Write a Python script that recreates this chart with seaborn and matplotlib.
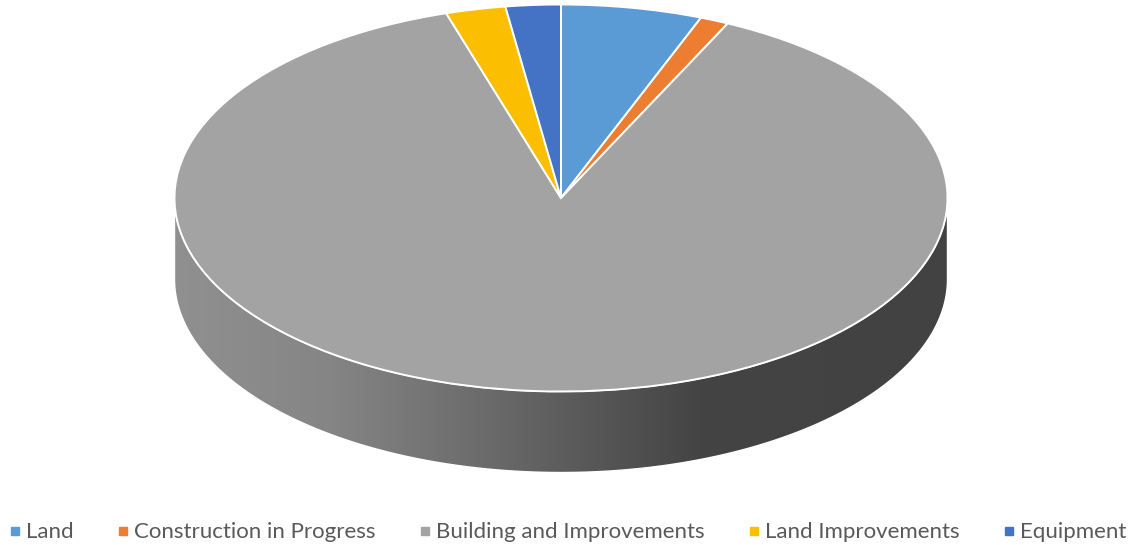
import numpy as np
import matplotlib
matplotlib.use('Agg')
import matplotlib.pyplot as plt
import seaborn as sns
from matplotlib.colors import LinearSegmentedColormap
from matplotlib.lines import Line2D
from matplotlib.patches import Polygon

categories = ['Land', 'Construction in Progress', 'Building and Improvements',
              'Land Improvements', 'Equipment']
values = [5.9, 1.2, 88.1, 2.5, 2.3]
slice_colors = ['#5B9BD5', '#ED7D31', '#A3A3A3', '#FBBE00', '#4472C4']

sns.set_theme(style='white')
plt.rcParams['font.family'] = ['Lato', 'DejaVu Sans']
palette = sns.color_palette(slice_colors)

W, H = 1132, 545
cx, cy = 561, 198        # centre of the top face, pixels from top left
rx, ry = 386.5, 193.5    # radii of the top face
depth = 81 / ry          # height of the side wall in y units

fig = plt.figure(figsize=(W / 100, H / 100), dpi=100)
ax = fig.add_axes([0, 0, 1, 1])

# side wall: grey gradient clipped to the band under the front of the ellipse
t = np.linspace(np.pi, 2 * np.pi, 300)
top_edge = np.column_stack([np.cos(t), np.sin(t)])
bottom_edge = np.column_stack([np.cos(t), np.sin(t) - depth])[::-1]
band = Polygon(np.vstack([top_edge, bottom_edge]), closed=True, transform=ax.transData,
               facecolor='none', edgecolor='white', linewidth=1.0, zorder=2)
ax.add_patch(band)

side_cmap = LinearSegmentedColormap.from_list(
    'side', [(0, '#909090'), (0.2, '#858585'), (0.38, '#6E6E6E'),
             (0.55, '#565656'), (0.68, '#444444'), (1, '#424242')])
gradient = np.linspace(0, 1, 512).reshape(1, -1)
img = ax.imshow(gradient, cmap=side_cmap, extent=(-1, 1, -1 - depth, 1), aspect='auto', zorder=1)
img.set_clip_path(band)

# top face
ax.pie(values, colors=palette, startangle=90, counterclock=False, radius=1, center=(0, 0),
       wedgeprops={'edgecolor': 'white', 'linewidth': 1.4, 'zorder': 3}, frame=True)

# pie forces an equal aspect, put the squashed perspective back
ax.set_aspect('auto')
ax.set_xlim(-cx / rx, (W - cx) / rx)
ax.set_ylim(-(H - cy) / ry, cy / ry)
ax.axis('off')

handles = [Line2D([], [], linestyle='none', marker='s', markersize=5.6, color=c) for c in palette]
leg = ax.legend(handles, categories, loc='lower center', bbox_to_anchor=(0.498, -0.032), ncol=5,
                frameon=False, fontsize=16, labelcolor='#595959', handletextpad=-0.1,
                columnspacing=1.62, handlelength=1.2)

fig.savefig('out.png', dpi=100)
